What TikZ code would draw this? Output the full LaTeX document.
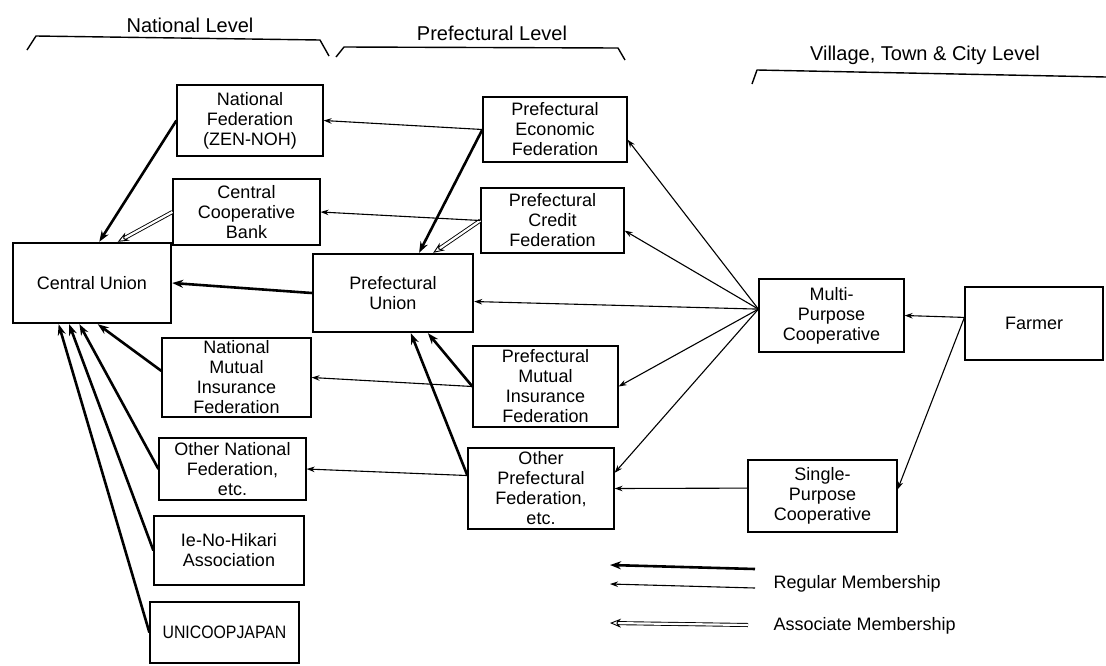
\documentclass[tikz,border=0pt]{standalone}
\usepackage{fontspec}
\setmainfont{Liberation Sans}
\usepackage{graphicx}
\usepackage{tikz}
\usetikzlibrary{arrows.meta}

\tikzset{
  orgbox/.style={draw, line width=1.2pt, align=center, inner sep=1pt},
  unionbox/.style={orgbox, line width=2.4pt},
  lvltext/.style={font=\fontsize{20}{22}\selectfont},
  bracket/.style={line width=1.4pt, line join=round},
  memthick/.style={line width=2.6pt, -{Stealth[length=11pt,width=8pt]}},
  memthin/.style={line width=1.1pt, -{Stealth[length=8pt,width=5.5pt]}},
  memassoc/.style={line width=0.9pt, double, double distance=2.2pt, -{Stealth[length=11pt,width=9pt,open]}},
}

\begin{document}
\begin{tikzpicture}[x=1pt,y=-1pt,font=\fontsize{18}{20}\selectfont]
\useasboundingbox (0,0) rectangle (1106,665);

% level headings
\node[lvltext] (natlvl) at (190,25) {National Level};
\node[lvltext] (preflvl) at (492,33) {Prefectural Level};
\node[lvltext] (vilvl) at (925,55) {Village, Town \& City Level};
\draw[bracket] (27,50) -- (36,36) -- (320,40) -- (329,56);
\draw[bracket] (336,57) -- (344,47) -- (618,48) -- (625,60);
\draw[bracket] (752,84) -- (757,70) -- (1106,77);

% national level
\node[unionbox, minimum width=158, minimum height=80] (cu) at (92,283) {Central Union};
\node[orgbox, minimum width=146, minimum height=71] (natfed) at (250,120.5) {National\\Federation\\(ZEN-NOH)};
\node[orgbox, minimum width=147, minimum height=66] (ccbank) at (246.5,212) {Central\\Cooperative\\Bank};
\node[orgbox, minimum width=149, minimum height=79] (nmif) at (236.5,377.5) {National\\Mutual\\Insurance\\Federation};
\node[orgbox, minimum width=147, minimum height=62] (othernat) at (232.5,469) {Other National\\Federation,\\etc.};
\node[orgbox, minimum width=150, minimum height=69] (ienohikari) at (229,550.5) {Ie-No-Hikari\\Association};
\node[orgbox, minimum width=149, minimum height=61] (unicoop) at (224.5,632.5) {\scalebox{0.88}[1]{UNICOOPJAPAN}};

% prefectural level
\node[orgbox, minimum width=144, minimum height=65] (pe) at (555,129.5) {Prefectural\\Economic\\Federation};
\node[orgbox, minimum width=143, minimum height=65] (pc) at (552.5,220.5) {Prefectural\\Credit\\Federation};
\node[unionbox, minimum width=160, minimum height=78] (pu) at (393,293) {Prefectural\\Union};
\node[orgbox, minimum width=145, minimum height=81] (pm) at (545.5,386.5) {Prefectural\\Mutual\\Insurance\\Federation};
\node[orgbox, minimum width=146, minimum height=81] (op) at (541,488.5) {Other\\Prefectural\\Federation,\\etc.};

% village, town & city level
\node[orgbox, minimum width=145, minimum height=73] (mpc) at (831.5,315.5) {Multi-\\Purpose\\Cooperative};
\node[orgbox, minimum width=138, minimum height=73] (farmer) at (1034,323.5) {Farmer};
\node[orgbox, minimum width=149, minimum height=72] (spc) at (822.5,496) {Single-\\Purpose\\Cooperative};

\draw
  (natfed.west) edge[memthick] (cu.80)
  (ccbank.west) edge[memassoc] (cu.58)
  (pu.west) edge[memthick] (cu.east)
  (nmif.175) edge[memthick] (cu.-82)
  (othernat.west) edge[memthick] (cu.-107)
  (ienohikari.west) edge[memthick] (cu.-119)
  (unicoop.west) edge[memthick] (cu.-129)
  (pe.west) edge[memthick] (pu.57)
  (pc.west) edge[memassoc] (pu.45)
  (pm.west) edge[memthick] (pu.-49)
  (op.170) edge[memthick] (pu.-66)
  (pe.west) edge[memthin] (natfed.east)
  (pc.west) edge[memthin] (ccbank.east)
  (pm.west) edge[memthin] (nmif.east)
  (op.170) edge[memthin] (othernat.east)
  (mpc.175) edge[memthin] (pe.-8)
  (mpc.175) edge[memthin] (pc.-8)
  (mpc.175) edge[memthin] (pu.-6)
  (mpc.175) edge[memthin] (pm.east)
  (mpc.175) edge[memthin] (op.12)
  (spc.174) edge[memthin] (op.east)
  (farmer.175) edge[memthin] (mpc.east)
  (farmer.175) edge[memthin] (spc.5)
  ;

% legend
\coordinate (leg1a) at (610,565);
\coordinate (leg1b) at (755,569);
\coordinate (leg2a) at (610,584);
\coordinate (leg2b) at (755,588);
\coordinate (leg3a) at (610,623);
\coordinate (leg3b) at (748,625);
\node[anchor=west] (regular) at (770,584) {Regular Membership};
\node[anchor=west] (associate) at (770,626) {Associate Membership};
\draw
  (leg1b) edge[memthick] (leg1a)
  (leg2b) edge[memthin] (leg2a)
  (leg3b) edge[memassoc] (leg3a)
  ;
\end{tikzpicture}
\end{document}
